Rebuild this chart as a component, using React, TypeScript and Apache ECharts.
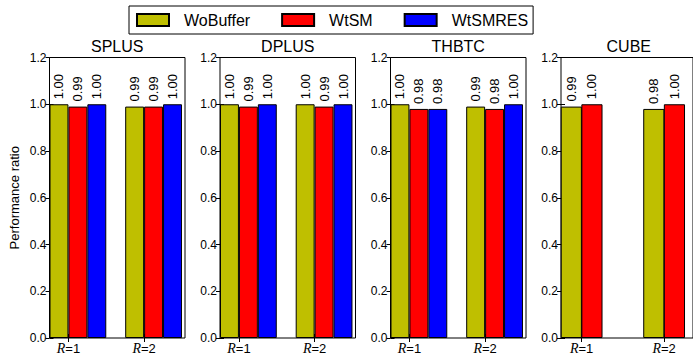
import React, { useEffect, useRef } from "react";
import * as echarts from "echarts";

const panels = ["SPLUS", "DPLUS", "THBTC", "CUBE"];
const groups = ["1", "2"];
const seriesNames = ["WoBuffer", "WtSM", "WtSMRES"];
const seriesColors = ["#bfbf00", "#ff0000", "#0000ff"];

// values per panel: [R=1, R=2]
const woBuffer = [
  [1.0, 0.99],
  [1.0, 1.0],
  [1.0, 0.99],
  [0.99, 0.98],
];
const wtSM = [
  [0.99, 0.99],
  [0.99, 0.99],
  [0.98, 0.98],
  [1.0, 1.0],
];
const wtSMRES: (number[] | null)[] = [
  [1.0, 1.0],
  [1.0, 1.0],
  [0.98, 1.0],
  null,
];

const yMin = 0;
const yMax = 1.2;
const yStep = 0.2;

const FONT = "'Liberation Sans', Arial, sans-serif";

export default function App() {
  const ref = useRef<HTMLDivElement>(null);
  useEffect(() => {
    if (!ref.current) return;
    const chart = echarts.init(ref.current, null, { renderer: "svg" });

    const gridLeft = [49.5, 220, 390.5, 561];
    const gridW = 135.5;
    const gridTop = 57.5;
    const gridH = 282;
    const xMax = [1.79, 1.79, 1.79, 1.6];
    const unitW = 0.25;
    const allSeries = [woBuffer, wtSM, wtSMRES];

    const grid: any[] = [];
    const xAxis: any[] = [];
    const yAxis: any[] = [];
    const series: any[] = [];
    const title: any[] = [];

    panels.forEach((p, i) => {
      grid.push({
        left: gridLeft[i],
        top: gridTop,
        width: gridW,
        height: gridH,
        show: true,
        borderColor: "#000",
        borderWidth: 1,
        backgroundColor: "transparent",
      });
      const tickPos = groups.map((_, g) => g + unitW);
      xAxis.push({
        gridIndex: i,
        type: "value",
        min: 0,
        max: xMax[i],
        position: "bottom",
        axisLine: { show: false },
        splitLine: { show: false },
        axisTick: {
          show: true,
          inside: true,
          length: 4,
          customValues: tickPos,
          lineStyle: { color: "#000" },
        },
        axisLabel: {
          show: true,
          customValues: tickPos,
          margin: 3,
          color: "#000",
          fontFamily: FONT,
          fontSize: 13,
          formatter: (v: number) => `{i|R}=${groups[Math.round(v - unitW)]}`,
          rich: {
            i: {
              fontFamily: "'Liberation Serif', 'Times New Roman', serif",
              fontStyle: "italic",
              fontSize: 14,
              color: "#000",
            },
          },
        },
      });
      xAxis.push({
        gridIndex: i,
        type: "value",
        min: 0,
        max: xMax[i],
        position: "top",
        axisLine: { show: false },
        splitLine: { show: false },
        axisLabel: { show: false },
        axisTick: {
          show: true,
          inside: true,
          length: 4,
          customValues: tickPos,
          lineStyle: { color: "#000" },
        },
      });
      yAxis.push({
        gridIndex: i,
        type: "value",
        min: yMin,
        max: yMax,
        interval: yStep,
        position: "left",
        axisLine: { show: false },
        splitLine: { show: false },
        axisTick: { show: true, inside: true, length: 4, lineStyle: { color: "#000" } },
        axisLabel: {
          show: true,
          margin: 3,
          color: "#000",
          fontFamily: FONT,
          fontSize: 12,
          formatter: (v: number) => v.toFixed(1),
        },
        name: i === 0 ? "Performance ratio" : "",
        nameLocation: "middle",
        nameGap: 29,
        nameTextStyle: { fontFamily: FONT, fontSize: 13, color: "#000" },
      });
      yAxis.push({
        gridIndex: i,
        type: "value",
        min: yMin,
        max: yMax,
        interval: yStep,
        position: "right",
        axisLine: { show: false },
        splitLine: { show: false },
        axisTick: { show: true, inside: true, length: 4, lineStyle: { color: "#000" } },
        axisLabel: { show: false },
      });
      title.push({
        text: p,
        left: gridLeft[i] + gridW / 2,
        top: 38,
        textAlign: "center",
        padding: 0,
        textStyle: { fontFamily: FONT, fontSize: 16, fontWeight: "normal", color: "#000" },
      });

      const pxPerUnit = gridW / xMax[i];
      allSeries.forEach((arr, j) => {
        const vals = arr[i];
        if (!vals) return;
        series.push({
          type: "bar",
          name: seriesNames[j],
          xAxisIndex: 2 * i,
          yAxisIndex: 2 * i,
          barWidth: unitW * pxPerUnit,
          barGap: "-100%",
          data: groups.map((_, k) => [k + unitW / 2 + unitW * j, vals[k]]),
          itemStyle: { color: seriesColors[j], borderColor: "#000", borderWidth: 1 },
          label: {
            show: true,
            position: "top",
            rotate: 90,
            align: "left",
            verticalAlign: "middle",
            distance: 5,
            color: "#000",
            fontFamily: FONT,
            fontSize: 13,
            formatter: (pr: any) => Number(pr.value[1]).toFixed(2),
          },
        });
      });
    });

    chart.setOption({
      animation: false,
      backgroundColor: "#fff",
      textStyle: { fontFamily: FONT },
      title,
      legend: {
        data: seriesNames,
        left: 129,
        top: 6,
        orient: "horizontal",
        padding: [6, 5, 6, 7],
        borderColor: "#000",
        borderWidth: 1,
        backgroundColor: "#fff",
        itemWidth: 32,
        itemHeight: 12,
        itemGap: 31,
        icon: "rect",
        selectedMode: false,
        textStyle: { fontFamily: FONT, fontSize: 16, color: "#000", padding: [0, 0, 0, 10] },
      },
      grid,
      xAxis,
      yAxis,
      series,
    });
    return () => chart.dispose();
  }, []);
  return <div ref={ref} style={{ width: 693, height: 355, position: "absolute", left: 0, top: 0 }} />;
}
